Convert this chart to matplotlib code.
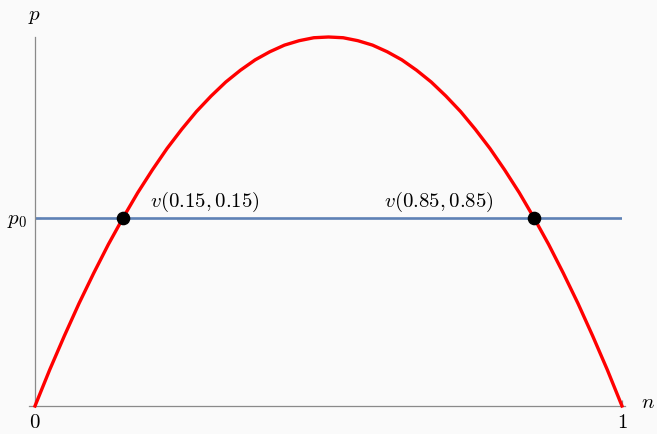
import matplotlib.pyplot as plt

plt.rcParams['mathtext.fontset'] = 'cm'
plt.rcParams['font.family'] = ['DejaVu Serif']

# curve (n, p), peak scaled to 1
n_vals = [0, 0.025, 0.05, 0.075, 0.1, 0.125, 0.15, 0.175, 0.2, 0.225, 0.25,
          0.275, 0.3, 0.325, 0.35, 0.375, 0.4, 0.425, 0.45, 0.475, 0.5,
          0.525, 0.55, 0.575, 0.6, 0.625, 0.65, 0.675, 0.7, 0.725, 0.75,
          0.775, 0.8, 0.825, 0.85, 0.875, 0.9, 0.925, 0.95, 0.975, 1]
p_vals = [0, 0.098, 0.19, 0.278, 0.36, 0.438, 0.51, 0.578, 0.64, 0.698, 0.75,
          0.798, 0.84, 0.878, 0.91, 0.938, 0.96, 0.978, 0.99, 0.998, 1.0,
          0.998, 0.99, 0.978, 0.96, 0.938, 0.91, 0.878, 0.84, 0.798, 0.75,
          0.698, 0.64, 0.578, 0.51, 0.438, 0.36, 0.278, 0.19, 0.098, 0]
p0 = 0.51
point_n = [0.15, 0.85]
point_labels = ['$v(0.15, 0.15)$', '$v(0.85, 0.85)$']
label_pos = [(0.196, 0.54), (0.595, 0.54)]

bg = '#fafafa'
axis_col = '#8a8a8a'
fs = 15

fig = plt.figure(figsize=(6.57, 4.34), dpi=100, facecolor=bg)
ax = fig.add_axes([35 / 657, 28 / 434, 587 / 657, 369 / 434])
ax.set_facecolor(bg)

ax.plot([0, 1], [p0, p0], color='#5e81b5', lw=1.9, zorder=2)
ax.plot(n_vals, p_vals, color='#ff0000', lw=2.4, zorder=3, clip_on=False)
ax.plot(point_n, [p0, p0], 'o', color='black', ms=8.8, zorder=4)

for lab, (x, y) in zip(point_labels, label_pos):
    ax.text(x, y, lab, fontsize=fs, ha='left', va='baseline')

ax.set_xlim(0, 1)
ax.set_ylim(0, 1)
for s in ['top', 'right']:
    ax.spines[s].set_visible(False)
for s in ['left', 'bottom']:
    ax.spines[s].set_color(axis_col)
    ax.spines[s].set_linewidth(0.9)
ax.spines['bottom'].set_bounds(-0.01, 1.005)

ax.set_xticks([0, 1])
ax.set_xticklabels(['$0$', '$1$'], fontsize=fs)
ax.set_yticks([p0])
ax.set_yticklabels(['$p_0$'], fontsize=fs)
ax.tick_params(axis='both', colors=axis_col, length=4, width=0.9,
               labelcolor='black', direction='in')
ax.tick_params(axis='x', pad=5)
ax.tick_params(axis='y', pad=6)

ax.text(0, 1.045, '$p$', fontsize=fs, ha='center', va='baseline',
        transform=ax.transAxes)
ax.text(1.045, 0.01, '$n$', fontsize=fs, ha='center', va='center',
        transform=ax.transAxes)

fig.savefig('out.png', dpi=100, facecolor=bg)
